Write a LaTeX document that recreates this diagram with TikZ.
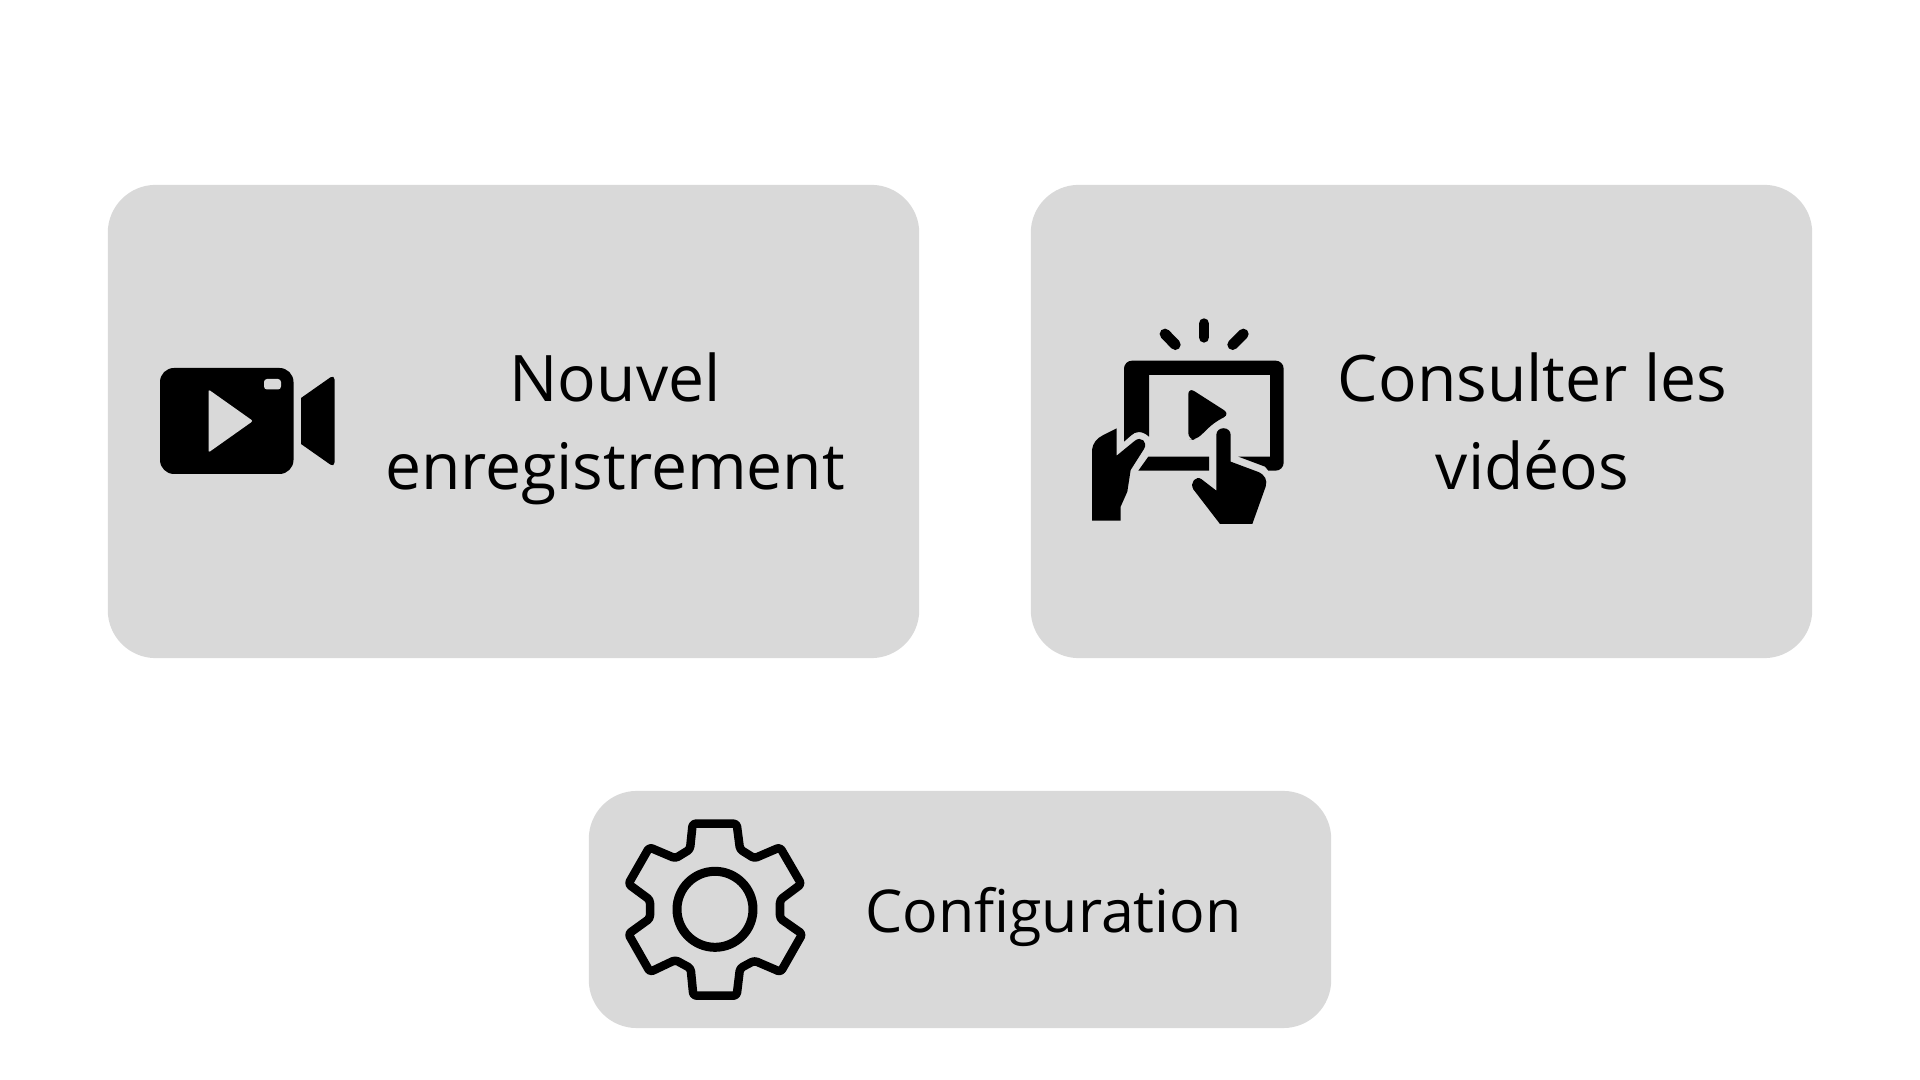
\documentclass[tikz,border=0pt]{standalone}
\usepackage{fontspec}
\setmainfont{Open Sans}
\usepackage{tikz}
\tikzset{
    cardbox/.style={rectangle, fill=cardgray, rounded corners=0.48cm, inner sep=0pt},
    cardtext/.style={align=center, text=black, inner sep=0pt, font=\fontsize{18.25}{25}\selectfont},
    cardtextsmall/.style={cardtext, font=\fontsize{16.8}{23}\selectfont},
    iconfill/.style={fill=black, draw=none},
    iconline/.style={draw=black, line join=round, fill=none},
    sparkline/.style={draw=black, line width=0.107cm, line cap=round}
}
\definecolor{cardgray}{HTML}{D9D9D9}

\begin{document}
\begin{tikzpicture}[x=0.01cm, y=-0.01cm]
        \useasboundingbox (0,0) rectangle (1920,1080);
        \fill[white] (0,0) rectangle (1920,1080);

        \node[cardbox, minimum width=8.11cm, minimum height=4.73cm] (record) at (513.5,421.5) {};
        \node[cardbox, minimum width=7.81cm, minimum height=4.73cm] (browse) at (1421.5,421.5) {};
        \node[cardbox, minimum width=7.42cm, minimum height=2.37cm] (config) at (960,909.5) {};

        \node[cardtext] (recordtext) at (615,429) {Nouvel\\enregistrement};
        \node[cardtext] (browsetext) at (1532.5,421) {Consulter les\\vidéos};
        \node[cardtextsmall] (configtext) at (1053.5,917) {Configuration};

        % camera
        \fill[iconfill, rounded corners=0.14cm] (160,368) rectangle (293.5,474);
        \fill[cardgray, rounded corners=0.02cm] (208.5,389.5) -- (253,421) -- (208.5,452.5) -- cycle;
        \fill[cardgray, rounded corners=0.03cm] (264,379) rectangle (281,389.5);
        \fill[iconfill] (301,398) [rounded corners=0.05cm] -- (334.5,374.5) -- (334.5,467.5) [sharp corners] -- (301,444) -- cycle;

        % tablet and hands
        \begin{scope}[shift={(1070,300)}, scale=1/3]
            \draw[sparkline] (285,102) -- (316,134);
            \draw[sparkline] (402,71) -- (402,112);
            \draw[sparkline] (520,102) -- (488,134);
            \fill[iconfill] (162,425) [rounded corners=0.08cm] -- (162,182) -- (641,182) -- (641,512) [sharp corners] -- (595,512) -- (585,500) -- (505,470) -- (600,470) -- (600,225) -- (237,225) -- (237,410) .. controls (215,390) and (195,395) .. (185,405) -- cycle;
            \fill[iconfill] (235,470) -- (417,470) -- (417,512) -- (205,512) -- cycle;
            \fill[iconfill, rounded corners=0.07cm] (355,262) -- (480,342) -- (432,368) -- (378,420) -- (355,420) -- cycle;
            \fill[iconfill] (140,385) -- (140,467) -- (195,422) .. controls (212,408) and (235,425) .. (222,447) -- (182,510) -- (172,575) -- (152,620) -- (152,662) -- (66,662) -- (66,450) .. controls (68,430) and (80,415) .. (100,405) -- cycle;
            \fill[iconfill] (439,405) .. controls (439,378) and (482,378) .. (482,405) -- (482,485) -- (565,516) .. controls (585,525) and (593,540) .. (587,560) -- (547,672) -- (450,672) -- (370,568) .. controls (358,548) and (378,525) .. (395,538) -- (439,572) -- cycle;
        \end{scope}

        % gear
        \begin{scope}[shift={(600,790)}, scale=1/3]
            \draw[iconline, line width=0.085cm, rounded corners=0.03cm] (278,101) -- (410,101) -- (420,178) -- (463,205) -- (540,172) -- (604,282) -- (540,330) -- (540,385) -- (607,432) -- (542,546) -- (463,512) -- (420,535) -- (410,617) -- (280,617) -- (272,535) -- (226,510) -- (150,546) -- (85,432) -- (150,385) -- (150,330) -- (85,282) -- (148,172) -- (226,205) -- (270,178) -- cycle;
            \draw[iconline, line width=0.09cm] (345,358) circle (114);
        \end{scope}
    \end{tikzpicture}
\end{document}
